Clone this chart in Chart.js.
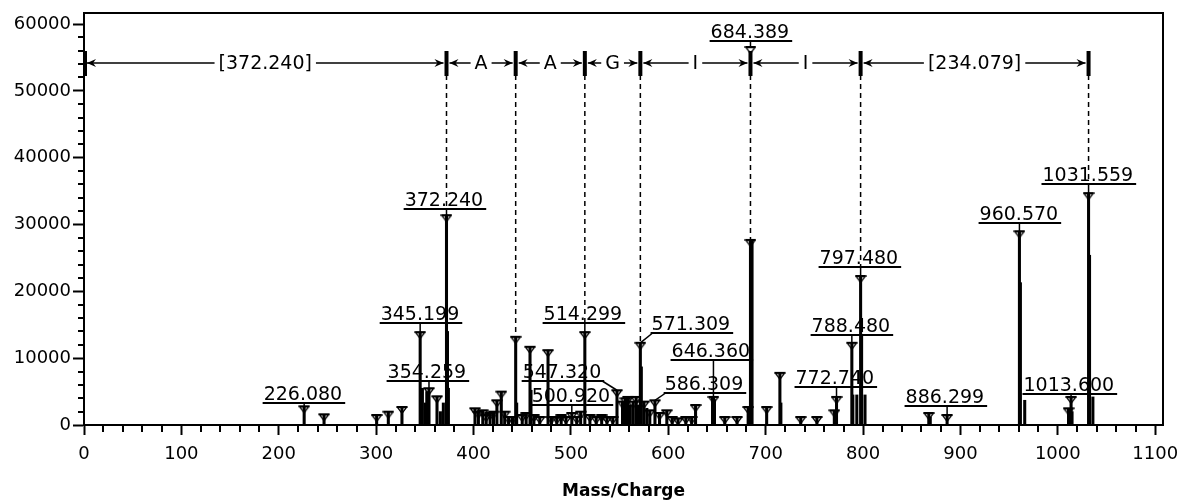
<!DOCTYPE html>
<html>
<head>
<meta charset="utf-8">
<title>Mass/Charge spectrum</title>
<script src="https://cdn.jsdelivr.net/npm/chart.js@4.4.1/dist/chart.umd.min.js"></script>
<style>
  html, body { margin: 0; padding: 0; background: #fff; }
  #wrap { width: 1179px; height: 503px; }
</style>
</head>
<body>
<div id="wrap"><canvas id="spectrum" width="1179" height="503"></canvas></div>
<script>
// picked peaks (drawn with a marker on top)
const pickedMz = [226.08, 246.5, 300.5, 312.5, 326.5, 345.199, 354.259, 362.5, 372.24,
  401.5, 405.0, 409.5, 413.0, 417.0, 420.5, 424.0, 428.5, 432.0, 436.0, 440.0, 443.28,
  450.0, 454.0, 458.0, 462.0, 468.0, 476.5, 480.0, 485.5, 490.0, 495.0, 500.92, 506.0,
  510.0, 514.299, 519.5, 526.0, 531.6, 537.0, 543.0, 547.32, 553.0, 556.0, 558.5, 564.0,
  567.0, 571.309, 575.0, 581.0, 586.309, 591.0, 598.5, 604.0, 610.0, 618.0, 624.0, 628.0,
  646.36, 658.0, 670.6, 682.0, 684.389, 701.0, 714.6, 736.0, 752.6, 770.5, 772.74, 788.48,
  797.48, 867.5, 886.299, 960.57, 1011.0, 1013.6, 1031.559];
const pickedInt = [2800, 1600, 1500, 2000, 2700, 13900, 5500, 4300, 31400,
  2500, 2000, 2200, 1500, 1800, 2000, 3700, 5000, 2000, 1200, 1200, 13200,
  1500, 1800, 11700, 1500, 1200, 11200, 1200, 1200, 1500, 1200, 1800, 1200,
  2000, 13900, 1500, 1200, 1500, 1200, 1200, 5200, 3500, 4000, 4200, 3500,
  4200, 12300, 3500, 2200, 3700, 1800, 2200, 1200, 1000, 1200, 1200, 3000,
  4200, 1200, 1200, 2700, 27700, 2700, 7800, 1200, 1200, 2200, 4200, 12300,
  22300, 1800, 1500, 29000, 2500, 4200, 34700];

// other sticks (isotopes, shoulders) without a marker
const stickMz = [347.5, 350.5, 352.0, 366.0, 369.0, 373.24, 374.2, 444.3, 459.0, 561.0,
  569.0, 572.3, 578.0, 645.4, 647.4, 685.2, 686.0, 715.6, 789.5, 793.6, 798.5, 802.0,
  869.0, 961.57, 966.0, 1014.6, 1032.56, 1036.0];
const stickInt = [5500, 3300, 5000, 2000, 3300, 14000, 5500, 3300, 5200, 3000,
  3000, 8700, 2500, 4200, 3800, 12700, 27700, 3300, 4500, 4500, 13500, 4500,
  1200, 21300, 3700, 2000, 25400, 4200];

// annotated peaks
const labelMz = [226.080, 345.199, 354.259, 372.240, 500.920, 514.299, 547.320, 571.309,
  586.309, 646.360, 684.389, 772.740, 788.480, 797.480, 886.299, 960.570, 1013.600, 1031.559];

// sequence ladder
const ladderMz = [0, 372.240, 443.280, 514.299, 571.309, 684.389, 797.480, 1031.559];
const ladderText = ['[372.240]', 'A', 'A', 'G', 'I', 'I', '[234.079]'];
const ladderLevel = 54200;

// axis ticks
const xTickValues = [0, 100, 200, 300, 400, 500, 600, 700, 800, 900, 1000, 1100];
const yTickValues = [0, 10000, 20000, 30000, 40000, 50000, 60000];
const xMax = 1108;
const yMax = 61650;
const xMinor = 20;
const yMinor = 2000;

// where each annotation sits: [centre m/z, underline intensity]
const labelPlace = [[224.8, 3290], [345.0, 15260], [352.1, 6580], [369.6, 32320],
  [500.0, 2990], [512.3, 15260], [490.8, 6580], [623.2, 13770], [636.6, 4790],
  [643.7, 9730], [683.8, 57460], [771.0, 5690], [787.5, 13470], [795.7, 23640],
  [884.0, 2840], [960.0, 30230], [1011.3, 4640], [1030.8, 36060]];

const FONT = '"DejaVu Sans", Verdana, sans-serif';

function peakTop(mz) {
  const i = pickedMz.findIndex(m => Math.abs(m - mz) < 0.01);
  return i < 0 ? 0 : pickedInt[i];
}

// peak marker: flat bar with a small open triangle hanging under the peak top
function makeMarker() {
  const c = document.createElement('canvas');
  c.width = 12;
  c.height = 16;
  const g = c.getContext('2d');
  g.strokeStyle = '#000';
  g.lineWidth = 1.3;
  g.beginPath();
  g.moveTo(1.5, 8.5);
  g.lineTo(10.5, 8.5);
  g.lineTo(6, 14.5);
  g.closePath();
  g.stroke();
  g.lineWidth = 2;
  g.beginPath();
  g.moveTo(0.5, 8);
  g.lineTo(11.5, 8);
  g.stroke();
  return c;
}
const marker = makeMarker();

function line(ctx, x1, y1, x2, y2) {
  ctx.beginPath();
  ctx.moveTo(x1, y1);
  ctx.lineTo(x2, y2);
  ctx.stroke();
}

function arrowHead(ctx, tipX, yy, dir) {
  ctx.beginPath();
  ctx.moveTo(tipX, yy);
  ctx.lineTo(tipX - dir * 9, yy - 4);
  ctx.lineTo(tipX - dir * 6, yy);
  ctx.lineTo(tipX - dir * 9, yy + 4);
  ctx.closePath();
  ctx.fill();
}

const spectrumDecor = {
  id: 'spectrumDecor',
  afterDraw(chart) {
    const { ctx, chartArea: a, scales: { x, y } } = chart;
    ctx.save();
    ctx.strokeStyle = '#000';
    ctx.fillStyle = '#000';

    // minor ticks
    ctx.lineWidth = 2;
    ctx.beginPath();
    for (let v = yMinor; v <= yMax; v += yMinor) {
      if (yTickValues.includes(v)) continue;
      const py = Math.round(y.getPixelForValue(v));
      ctx.moveTo(a.left - 6, py);
      ctx.lineTo(a.left, py);
    }
    for (let v = xMinor; v <= xMax; v += xMinor) {
      if (xTickValues.includes(v)) continue;
      const px = Math.round(x.getPixelForValue(v));
      ctx.moveTo(px, a.bottom);
      ctx.lineTo(px, a.bottom + 7);
    }
    ctx.stroke();

    // plot frame
    ctx.strokeRect(a.left, a.top, a.right - a.left, a.bottom - a.top);

    // label geometry
    ctx.font = '19px ' + FONT;
    const labels = labelMz.map((m, j) => {
      const text = m.toFixed(3);
      const w = ctx.measureText(text).width;
      const cx = x.getPixelForValue(labelPlace[j][0]);
      const uy = Math.round(y.getPixelForValue(labelPlace[j][1]));
      return { mz: m, text, cx, uy, left: cx - w / 2 - 1, right: cx + w / 2 + 3 };
    });

    // dashed drops from the ladder
    const ly = Math.round(y.getPixelForValue(ladderLevel));
    const bx = ladderMz.map(m => x.getPixelForValue(m));
    ctx.setLineDash([5, 4]);
    ctx.lineWidth = 1.5;
    for (let i = 1; i < ladderMz.length; i++) {
      let target = y.getPixelForValue(peakTop(ladderMz[i]));
      labels.forEach(L => {
        if (bx[i] >= L.left && bx[i] <= L.right && L.uy > ly + 12 && L.uy < target) target = L.uy;
      });
      line(ctx, bx[i], ly + 12, bx[i], target);
    }
    ctx.setLineDash([]);

    // ladder
    ctx.lineWidth = 1.5;
    for (let i = 0; i < ladderText.length; i++) {
      const x0 = bx[i] + 3, x1 = bx[i + 1] - 3;
      line(ctx, x0, ly, x1, ly);
      arrowHead(ctx, x0, ly, -1);
      arrowHead(ctx, x1, ly, 1);
    }
    bx.forEach((px, i) => {
      if (i === 0) ctx.fillRect(px, ly - 12, 3, 25);
      else ctx.fillRect(px - 2, ly - 12, 4, 25);
    });
    ctx.textAlign = 'center';
    ctx.textBaseline = 'middle';
    ladderText.forEach((t, i) => {
      const mid = (bx[i] + bx[i + 1]) / 2;
      const w = ctx.measureText(t).width;
      ctx.fillStyle = '#fff';
      ctx.fillRect(mid - w / 2 - 4, ly - 9, w + 8, 18);
      ctx.fillStyle = '#000';
      ctx.fillText(t, mid, ly + 1);
    });

    // peak annotations
    ctx.textBaseline = 'alphabetic';
    labels.forEach(L => {
      ctx.fillText(L.text, L.cx, L.uy - 3);
      ctx.lineWidth = 2;
      line(ctx, L.left, L.uy, L.right, L.uy);
      const px = x.getPixelForValue(L.mz);
      const py = y.getPixelForValue(peakTop(L.mz));
      const sx = Math.min(Math.max(px, L.left + 2), L.right - 2);
      ctx.lineWidth = 1.5;
      if (py - L.uy < 80) {
        line(ctx, sx, L.uy, px, py);
      } else {
        line(ctx, px, L.uy, px, L.uy + 6);
        ctx.drawImage(marker, px - 6, L.uy - 2);
      }
    });
    ctx.restore();
  }
};

const stickData = pickedMz.map((m, i) => ({ x: m, y: pickedInt[i] }))
  .concat(stickMz.map((m, i) => ({ x: m, y: stickInt[i] })));
const markerData = pickedMz.map((m, i) => ({ x: m, y: pickedInt[i] }));

new Chart(document.getElementById('spectrum'), {
  type: 'bar',
  data: {
    datasets: [
      {
        type: 'scatter',
        data: markerData,
        pointStyle: marker,
        pointRadius: 5,
        pointHoverRadius: 5
      },
      {
        type: 'bar',
        data: stickData,
        backgroundColor: '#000',
        borderWidth: 0,
        barThickness: 2.4,
        grouped: false
      }
    ]
  },
  options: {
    responsive: false,
    animation: false,
    events: [],
    layout: { padding: { top: 13, right: 16, bottom: 0, left: 0 } },
    plugins: { legend: { display: false }, tooltip: { enabled: false } },
    scales: {
      x: {
        type: 'linear',
        min: 0,
        max: xMax,
        offset: false,
        afterBuildTicks(s) { s.ticks = xTickValues.map(v => ({ value: v })); },
        afterFit(s) {
          s.height = 78;
          // the 1100 label may hang past the plot edge, as in the original
          s.paddingLeft = 0;
          s.paddingRight = 0;
        },
        ticks: {
          autoSkip: false,
          maxRotation: 0,
          color: '#000',
          padding: 9,
          font: { family: FONT, size: 18 },
          callback: v => String(v)
        },
        grid: { drawOnChartArea: false, drawTicks: true, tickLength: 10, tickWidth: 2, tickColor: '#000', offset: false },
        border: { color: '#000', width: 2 },
        title: {
          display: true,
          text: 'Mass/Charge',
          color: '#000',
          font: { family: FONT, size: 17, weight: 'bold' },
          padding: { top: 0, bottom: 1 }
        }
      },
      y: {
        type: 'linear',
        min: 0,
        max: yMax,
        afterBuildTicks(s) { s.ticks = yTickValues.map(v => ({ value: v })); },
        afterFit(s) { s.width = 84; },
        ticks: {
          color: '#000',
          padding: 2,
          font: { family: FONT, size: 18 },
          callback: v => String(v)
        },
        grid: { drawOnChartArea: false, drawTicks: true, tickLength: 11, tickWidth: 2, tickColor: '#000' },
        border: { color: '#000', width: 2 }
      }
    }
  },
  plugins: [spectrumDecor]
});
</script>
</body>
</html>
